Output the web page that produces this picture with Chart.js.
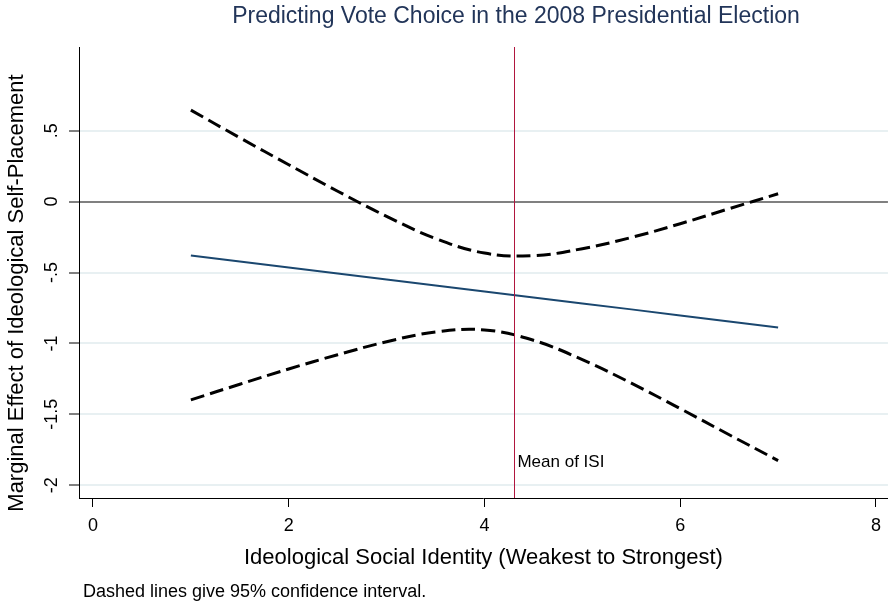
<!DOCTYPE html>
<html><head><meta charset="utf-8">
<script src="https://cdn.jsdelivr.net/npm/chart.js@4/dist/chart.umd.min.js"></script>
<style>html,body{margin:0;padding:0;background:#fff}#wrap{width:889px;height:603px}</style>
</head><body><div id="wrap"><canvas id="c" width="889" height="603"></canvas></div>
<script>
// ---- data ----
const isi      = [1, 1.5, 2, 2.5, 3, 3.5, 4, 4.5, 5, 5.5, 6, 6.5, 7];
const effect   = [-0.380, -0.422, -0.465, -0.507, -0.549, -0.591, -0.634, -0.676, -0.718, -0.760, -0.803, -0.845, -0.887];
const upper95  = [0.645, 0.450, 0.260, 0.073, -0.104, -0.260, -0.363, -0.381, -0.332, -0.253, -0.156, -0.050, 0.055];
const lower95  = [-1.398, -1.288, -1.180, -1.080, -0.988, -0.920, -0.905, -0.978, -1.115, -1.280, -1.460, -1.644, -1.826];
const meanISI  = 4.306;
const xTicks   = [0, 2, 4, 6, 8];
const yTicks   = [-2, -1.5, -1, -0.5, 0, 0.5];
const yTickLabels = ['-2', '-1.5', '-1', '-.5', '0', '.5'];
const titleText = 'Predicting Vote Choice in the 2008 Presidential Election';
const xTitle = 'Ideological Social Identity (Weakest to Strongest)';
const yTitle = 'Marginal Effect of Ideological Self-Placement';
const noteText = 'Dashed lines give 95% confidence interval.';
const meanLabel = 'Mean of ISI';

const FONT = "'Liberation Sans', Arial, Helvetica, sans-serif";
Chart.defaults.font.family = FONT;
Chart.defaults.color = '#000';

const pts = ys => isi.map((x, i) => ({x: x, y: ys[i]}));

const annot = {
  id: 'annot',
  afterDatasetsDraw(chart) {
    const {ctx, chartArea, scales} = chart;
    const px = scales.x.getPixelForValue(meanISI);
    ctx.save();
    ctx.strokeStyle = '#b0163e';
    ctx.lineWidth = 1;
    ctx.beginPath();
    ctx.moveTo(Math.round(px) + 0.5, chartArea.top);
    ctx.lineTo(Math.round(px) + 0.5, chartArea.bottom);
    ctx.stroke();
    ctx.fillStyle = '#000';
    ctx.font = '17px ' + FONT;
    ctx.textAlign = 'left';
    ctx.textBaseline = 'middle';
    ctx.fillText(meanLabel, px + 3, scales.y.getPixelForValue(-1.84));
    ctx.restore();
  },
  afterDraw(chart) {
    const {ctx} = chart;
    ctx.save();
    ctx.fillStyle = '#223559';
    ctx.font = '23px ' + FONT;
    ctx.textAlign = 'center';
    ctx.textBaseline = 'middle';
    ctx.fillText(titleText, 516, 17);
    ctx.fillStyle = '#000';
    ctx.font = '18px ' + FONT;
    ctx.textAlign = 'left';
    ctx.fillText(noteText, 83, 592);
    // y axis title
    ctx.font = '22px ' + FONT;
    ctx.textAlign = 'center';
    ctx.translate(17, 293);
    ctx.rotate(-Math.PI / 2);
    ctx.fillText(yTitle, 0, 0);
    ctx.restore();
  }
};

new Chart(document.getElementById('c'), {
  type: 'line',
  data: {
    datasets: [
      {label: 'Upper 95%', data: pts(upper95), borderColor: '#000', borderWidth: 3, borderDash: [14, 6], pointRadius: 0, tension: 0.4, fill: false},
      {label: 'Marginal effect', data: pts(effect), borderColor: '#1a476f', borderWidth: 2, pointRadius: 0, tension: 0, fill: false},
      {label: 'Lower 95%', data: pts(lower95), borderColor: '#000', borderWidth: 3, borderDash: [14, 6], pointRadius: 0, tension: 0.4, fill: false}
    ]
  },
  options: {
    responsive: false,
    animation: false,
    devicePixelRatio: 1,
    layout: {padding: {top: 47, left: 0, right: 0, bottom: 0}},
    plugins: {legend: {display: false}, title: {display: false}, tooltip: {enabled: false}},
    scales: {
      x: {
        type: 'linear', min: -0.143, max: 8.122,
        afterBuildTicks: s => { s.ticks = xTicks.map(v => ({value: v})); },
        afterFit: s => { s.height = 105; },
        ticks: {font: {size: 18}, color: '#000', padding: 8, maxRotation: 0, autoSkip: false},
        grid: {drawOnChartArea: false, drawTicks: true, tickLength: 9, tickColor: '#000', tickWidth: 1},
        border: {color: '#000', width: 1},
        title: {display: true, text: xTitle, font: {size: 22}, color: '#000', padding: {top: 0, bottom: 32}}
      },
      y: {
        type: 'linear', min: -2.09, max: 1.09,
        afterBuildTicks: s => { s.ticks = yTicks.map(v => ({value: v})); },
        afterFit: s => { s.width = 79; },
        ticks: {
          font: {size: 18}, color: '#000', minRotation: 90, maxRotation: 90, crossAlign: 'center', padding: 1, autoSkip: false,
          callback: v => { const i = yTicks.indexOf(v); return i >= 0 ? yTickLabels[i] : ''; }
        },
        grid: {
          color: c => (c.tick && c.tick.value === 0) ? '#808080' : '#e8f0f2',
          lineWidth: 2, drawTicks: true, tickLength: 10, tickColor: '#000', tickWidth: 1
        },
        border: {color: '#000', width: 1},
        title: {display: false}
      }
    }
  },
  plugins: [annot]
});
</script></body></html>
